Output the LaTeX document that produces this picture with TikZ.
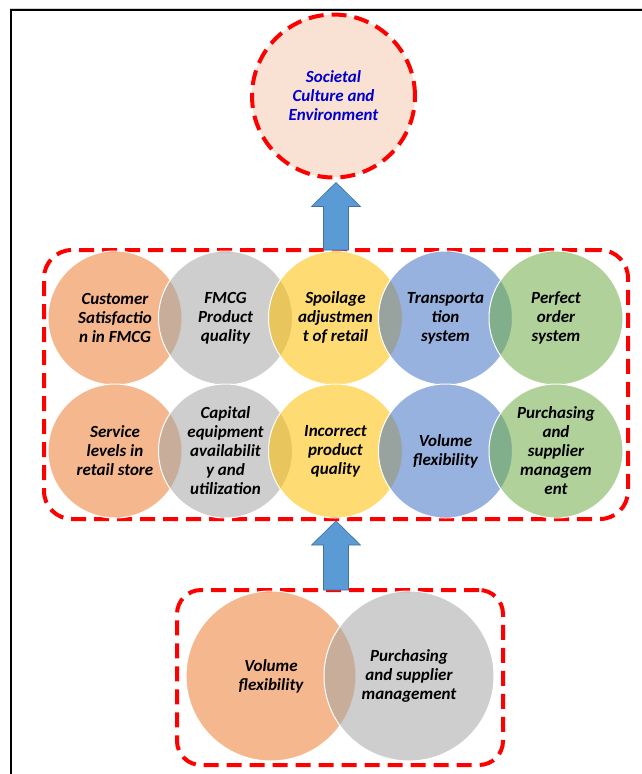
\documentclass[tikz,border=0pt]{standalone}
\usepackage{fontspec}
\setmainfont{Carlito}
\usepackage{xcolor}
\usetikzlibrary{positioning,calc}

\definecolor{accOrange}{HTML}{ED7D31}
\definecolor{accGray}{HTML}{A5A5A5}
\definecolor{accGold}{HTML}{FFC000}
\definecolor{accBlue}{HTML}{4472C4}
\definecolor{accGreen}{HTML}{70AD47}
\definecolor{peach}{HTML}{F9E1D3}
\definecolor{arrowFill}{HTML}{5B9BD5}
\definecolor{arrowLine}{HTML}{41719C}
\definecolor{labelBlue}{RGB}{0,0,204}

% block arrow pointing up, from base point #1 to tip point #2
\newcommand{\upblock}[2]{%
  \draw[blockarrow] let \p1=#1, \p2=#2 in
    (\x1-12.5pt,\y1) -- (\x1-12.5pt,\y2-24pt) -- (\x1-24.5pt,\y2-24pt) -- (\x1,\y2)
    -- (\x1+24.5pt,\y2-24pt) -- (\x1+12.5pt,\y2-24pt) -- (\x1+12.5pt,\y1) -- cycle;}

\begin{document}
\begin{tikzpicture}[
  x=1pt, y=-1pt,
  venn/.style={circle, minimum size=134pt, inner sep=0pt, draw=white, line width=1pt,
    fill opacity=0.55, text opacity=1, align=center,
    font=\bfseries\itshape\fontsize{17}{19}\selectfont},
  bigvenn/.style={venn, minimum size=170pt},
  reddash/.style={draw=red, line width=4pt, dash pattern=on 15pt off 8pt},
  grpbox/.style={reddash, rounded corners=28pt, outer sep=0pt, inner sep=0pt},
  blockarrow/.style={fill=arrowFill, draw=arrowLine, line width=0.6pt},
  frame/.style={draw=black, line width=2.5pt}
]
  \useasboundingbox (0,0) rectangle (642,774);
  % page frame (only top and left edge visible)
  \draw[gray!35, line width=1pt] (10,8) -- (642,8);
  \draw[frame] (642,10) -- (11,10) -- (11,774);

  % top goal
  \node[circle, minimum size=163pt, inner sep=0pt, outer sep=0pt, fill=peach, reddash,
        align=center, text=labelBlue, font=\bfseries\itshape\fontsize{17}{19}\selectfont]
        (soc) at (333.5,96) {Societal\\Culture and\\Environment};

  % middle group
  \node[grpbox, minimum width=584pt, minimum height=269pt] (mid) at (336,384.5) {};

  \node[venn, fill=accOrange] (c11) at (115,318) {Customer\\Satisfactio\\n in FMCG};
  \node[venn, fill=accGray] (c12) at (225.5,318) {FMCG\\Product\\quality};
  \node[venn, fill=accGold] (c13) at (335.5,318) {Spoilage\\adjustmen\\t of retail};
  \node[venn, fill=accBlue] (c14) at (445.5,318) {Transporta\\tion\\system};
  \node[venn, fill=accGreen] (c15) at (556,318) {Perfect\\order\\system};

  \node[venn, fill=accOrange] (c21) at (115,451) {Service\\levels in\\retail store};
  \node[venn, fill=accGray] (c22) at (225.5,451) {Capital\\equipment\\availabilit\\y and\\utilization};
  \node[venn, fill=accGold] (c23) at (335.5,451) {Incorrect\\product\\quality};
  \node[venn, fill=accBlue] (c24) at (445.5,451) {Volume\\flexibility};
  \node[venn, fill=accGreen] (c25) at (556,451) {Purchasing\\and\\supplier\\managem\\ent};

  % bottom group
  \node[grpbox, rounded corners=24pt, minimum width=326pt, minimum height=175pt] (low) at (340,677.5) {};
  \node[bigvenn, fill=accOrange] (b1) at (271,676) {Volume\\flexibility};
  \node[bigvenn, fill=accGray] (b2) at (409,676) {Purchasing\\and supplier\\management};

  % arrows between the levels
  \upblock{(mid.north)}{($(mid.north |- soc.south)+(0,5)$)}
  \upblock{(mid.south |- low.north)}{($(mid.south)+(0,2)$)}
\end{tikzpicture}
\end{document}
